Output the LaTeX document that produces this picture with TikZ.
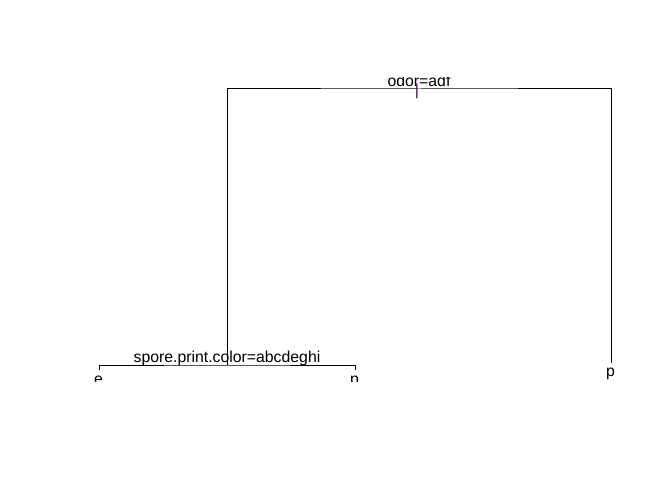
\documentclass[tikz,border=0pt]{standalone}
\usepackage{fontspec}
\setmainfont{Liberation Sans}
\begin{document}
\begin{tikzpicture}[x=1bp,y=-1bp,
  branch/.style={draw=black,line width=1bp},
  lbl/.style={inner sep=0pt,anchor=base,font=\fontsize{15.8bp}{19bp}\selectfont},
  rootmark/.style={lbl,text=violet!70!black}]
\useasboundingbox (0,0) rectangle (672,480);
% tree node positions
\coordinate (root) at (419.5,89);
\coordinate (spore) at (227.5,365);
\coordinate (leafE) at (99.5,370);
\coordinate (leafP) at (355.5,370);
\coordinate (leafR) at (611,363);
% branches
\draw[branch] (spore) |- (root) -| (leafR);
\draw[branch] (leafE) |- (spore) -| (leafP);
% labels, clipped to the plotting region
\begin{scope}
\clip (0,77.3) rectangle (672,381);
\node[lbl] (rootlbl) at (419,86.8) {odor=adf};
\node[rootmark] (rootbar) at (417,95.5) {|};
\node[lbl] (sporelbl) at (227,362.5) {spore.print.color=abcdeghi};
\node[lbl] (elbl) at (98.5,384.5) {e};
\node[lbl] (plbl) at (354.5,384.5) {p};
\node[lbl] (rlbl) at (610.5,376.5) {p};
\end{scope}
\end{tikzpicture}
\end{document}
